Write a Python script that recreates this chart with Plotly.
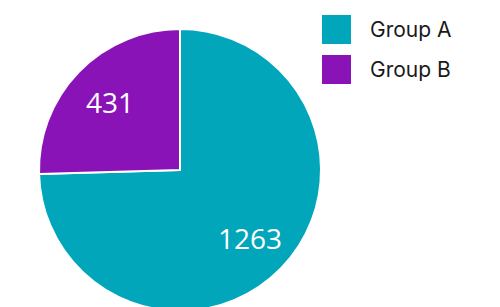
import math
import plotly.graph_objects as go

labels = ["Group A", "Group B"]
values = [1263, 431]
colors = ["#01A6BA", "#8913B7"]

W, H = 500, 340
cx, cy, r = 180, 170, 141

fig = go.Figure()
fig.add_trace(go.Pie(
    labels=labels,
    values=values,
    sort=False,
    direction="clockwise",
    rotation=0,
    marker=dict(colors=colors, line=dict(color="white", width=2)),
    textinfo="none",
    showlegend=False,
    hoverinfo="label+value",
    domain=dict(x=[(cx - r) / W, (cx + r) / W], y=[1 - (cy + r) / H, 1 - (cy - r) / H]),
))

shapes = []
annotations = []

# slice value labels placed along each slice's bisector
total = sum(values)
cum = 0
for v in values:
    mid = (cum + v / 2) / total * 2 * math.pi
    cum += v
    rr = 0.69 * r
    px = cx + rr * math.sin(mid)
    py = cy - rr * math.cos(mid)
    annotations.append(dict(xref="paper", yref="paper", x=px / W, y=1 - py / H,
                            text=str(v), showarrow=False, xanchor="center", yanchor="middle",
                            font=dict(family="Open Sans", size=28, color="white")))

# legend drawn with large square swatches
for i, (lab, col) in enumerate(zip(labels, colors)):
    top = 15 + i * 40
    shapes.append(dict(type="rect", xref="paper", yref="paper",
                       x0=322 / W, x1=351 / W, y0=1 - (top + 29) / H, y1=1 - top / H,
                       fillcolor=col, line=dict(width=0)))
    annotations.append(dict(xref="paper", yref="paper", x=368 / W, y=1 - (top + 14.5) / H,
                            text=lab, showarrow=False, xanchor="left", yanchor="middle",
                            font=dict(family="Inter", size=21, color="#1a1a1a")))

fig.update_layout(
    width=W, height=H,
    margin=dict(l=0, r=0, t=0, b=0),
    paper_bgcolor="white", plot_bgcolor="white",
    shapes=shapes, annotations=annotations,
)

fig.write_html("out.html", config={"displayModeBar": False},
               post_script="document.documentElement.style.overflow='hidden';document.body.style.overflow='hidden';document.body.style.margin='0';")
